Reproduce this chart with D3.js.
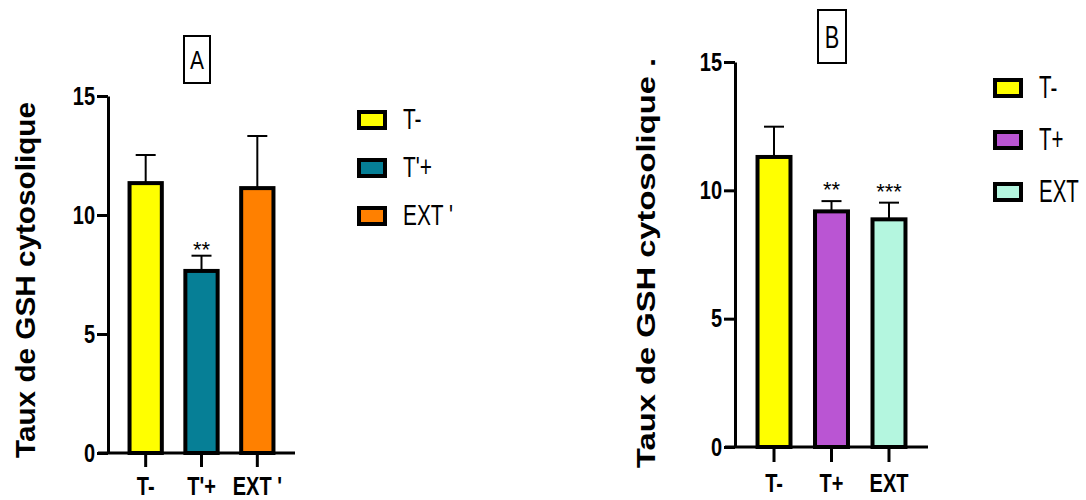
<!DOCTYPE html>
<html>
<head>
<meta charset="utf-8">
<script src="https://cdn.jsdelivr.net/npm/d3@7"></script>
<style>
  body { margin: 0; background: #fff; }
  svg { display: block; font-family: "Liberation Sans", Arial, sans-serif; }
</style>
</head>
<body>
<svg id="chart" width="1086" height="500"></svg>
<script>
// ─── Data ─────────────────────────────────────────────
const yTicks = [0, 5, 10, 15];

const groupsA = ["T-", "T'+", "EXT '"];
const meansA  = [11.34, 7.65, 11.13];
const errA    = [1.18, 0.64, 2.19];
const starsA  = ["", "**", ""];
const colorsA = ["#ffff00", "#067f96", "#ff8000"];

const groupsB = ["T-", "T+", "EXT"];
const meansB  = [11.30, 9.18, 8.87];
const errB    = [1.18, 0.40, 0.65];
const starsB  = ["", "**", "***"];
const colorsB = ["#ffff00", "#ba55d3", "#b4f6df"];

const svg = d3.select('#chart');

// ─── One panel ────────────────────────────────────────
function drawPanel(p) {
    const x = d3.scaleBand()
        .domain(p.groups)
        .range([p.x0, p.x1])
        .paddingInner(p.pad)
        .paddingOuter(p.pad);
    const y = d3.scaleLinear().domain([0, 15]).range([p.y0, p.y15]);

    const g = svg.append('g');

    // bars
    p.groups.forEach((k, i) => {
        const bx = x(k) + 2, bw = x.bandwidth() - 4;
        const top = y(p.means[i]);
        const cx = x(k) + x.bandwidth() / 2;
        const et = y(p.means[i] + p.err[i]);

        g.append('line')
            .attr('x1', cx).attr('x2', cx)
            .attr('y1', top).attr('y2', et)
            .attr('stroke', '#000').attr('stroke-width', 2);
        g.append('line')
            .attr('x1', cx - 10).attr('x2', cx + 10)
            .attr('y1', et).attr('y2', et)
            .attr('stroke', '#000').attr('stroke-width', 2);

        g.append('rect')
            .attr('x', bx).attr('y', top)
            .attr('width', bw).attr('height', p.y0 - top)
            .attr('fill', p.colors[i])
            .attr('stroke', '#000').attr('stroke-width', 4);

        if (p.stars[i]) {
            g.append('text')
                .attr('x', cx).attr('y', et + p.starDy)
                .attr('text-anchor', 'middle')
                .attr('font-size', 22)
                .text(p.stars[i]);
        }
    });

    // y axis
    const ya = g.append('g')
        .attr('transform', `translate(${p.x0},0)`)
        .call(d3.axisLeft(y).tickValues(yTicks).tickSize(11).tickSizeOuter(0));
    ya.select('.domain').attr('stroke-width', 3);
    ya.selectAll('.tick line').attr('stroke-width', 3);
    ya.selectAll('.tick text')
        .attr('font-size', 25).attr('font-weight', 'bold')
        .attr('font-family', '"Liberation Sans", Arial, sans-serif')
        .attr('x', -13 / 0.8)
        .attr('transform', 'scale(0.8,1)');

    // x axis
    const xa = g.append('g')
        .attr('transform', `translate(0,${p.y0})`)
        .call(d3.axisBottom(x).tickSize(p.xTick).tickSizeOuter(0));
    xa.select('.domain').attr('d', `M${p.x0 - 10},0H${p.x1}`).attr('stroke-width', 3);
    xa.selectAll('.tick line').attr('stroke-width', 3);
    xa.selectAll('.tick text')
        .attr('font-size', 25).attr('font-weight', 'bold')
        .attr('font-family', '"Liberation Sans", Arial, sans-serif')
        .attr('y', p.labelDy).attr('dy', 0)
        .attr('transform', 'scale(0.8,1)');

    // y title
    g.append('text')
        .attr('transform', `translate(${p.titleX},${p.titleY}) rotate(-90)`)
        .attr('text-anchor', 'middle')
        .attr('font-size', p.titleSize).attr('font-weight', 'bold')
        .attr('textLength', p.titleLen).attr('lengthAdjust', 'spacingAndGlyphs')
        .text(p.title);

    // panel letter
    g.append('rect')
        .attr('x', p.box[0]).attr('y', p.box[1])
        .attr('width', p.box[2]).attr('height', p.box[3])
        .attr('fill', 'none').attr('stroke', '#000').attr('stroke-width', 2);
    g.append('text')
        .attr('transform', `translate(${p.box[0] + p.box[2] / 2},${p.letterY}) scale(${p.letterScale},1)`)
        .attr('text-anchor', 'middle')
        .attr('font-size', p.letterSize)
        .text(p.letter);

    // legend
    p.groups.forEach((k, i) => {
        const cy = p.legY + i * p.legStep;
        g.append('rect')
            .attr('x', p.legX + 2).attr('y', cy - 8)
            .attr('width', 26).attr('height', 16)
            .attr('fill', p.colors[i])
            .attr('stroke', '#000').attr('stroke-width', 4);
        g.append('text')
            .attr('transform', `translate(${p.legX + 46},${cy + p.legDy}) scale(${p.legScale},1)`)
            .attr('font-size', p.legSize)
            .text(p.legend[i]);
    });
}

drawPanel({
    groups: groupsA, means: meansA, err: errA, stars: starsA, colors: colorsA,
    legend: groupsA,
    x0: 108, x1: 295, pad: 0.35, y0: 453, y15: 96,
    xTick: 14, labelDy: 42, starDy: 1,
    title: 'Taux de GSH cytosolique', titleX: 35, titleY: 280, titleSize: 28, titleLen: 356,
    box: [184, 36, 26, 47], letter: 'A', letterY: 69, letterSize: 25, letterScale: 0.84,
    legX: 357, legY: 120, legStep: 48, legDy: 9, legSize: 29, legScale: 0.72
});

drawPanel({
    groups: groupsB, means: meansB, err: errB, stars: starsB, colors: colorsB,
    legend: groupsB,
    x0: 735, x1: 928, pad: 0.357, y0: 447, y15: 62,
    xTick: 15, labelDy: 45, starDy: -4,
    title: 'Taux de GSH cytosolique .', titleX: 655, titleY: 263, titleSize: 25, titleLen: 410,
    box: [818, 10, 28, 53], letter: 'B', letterY: 48, letterSize: 32, letterScale: 0.68,
    legX: 993, legY: 88, legStep: 52, legDy: 10, legSize: 32, legScale: 0.64
});
</script>
</body>
</html>
